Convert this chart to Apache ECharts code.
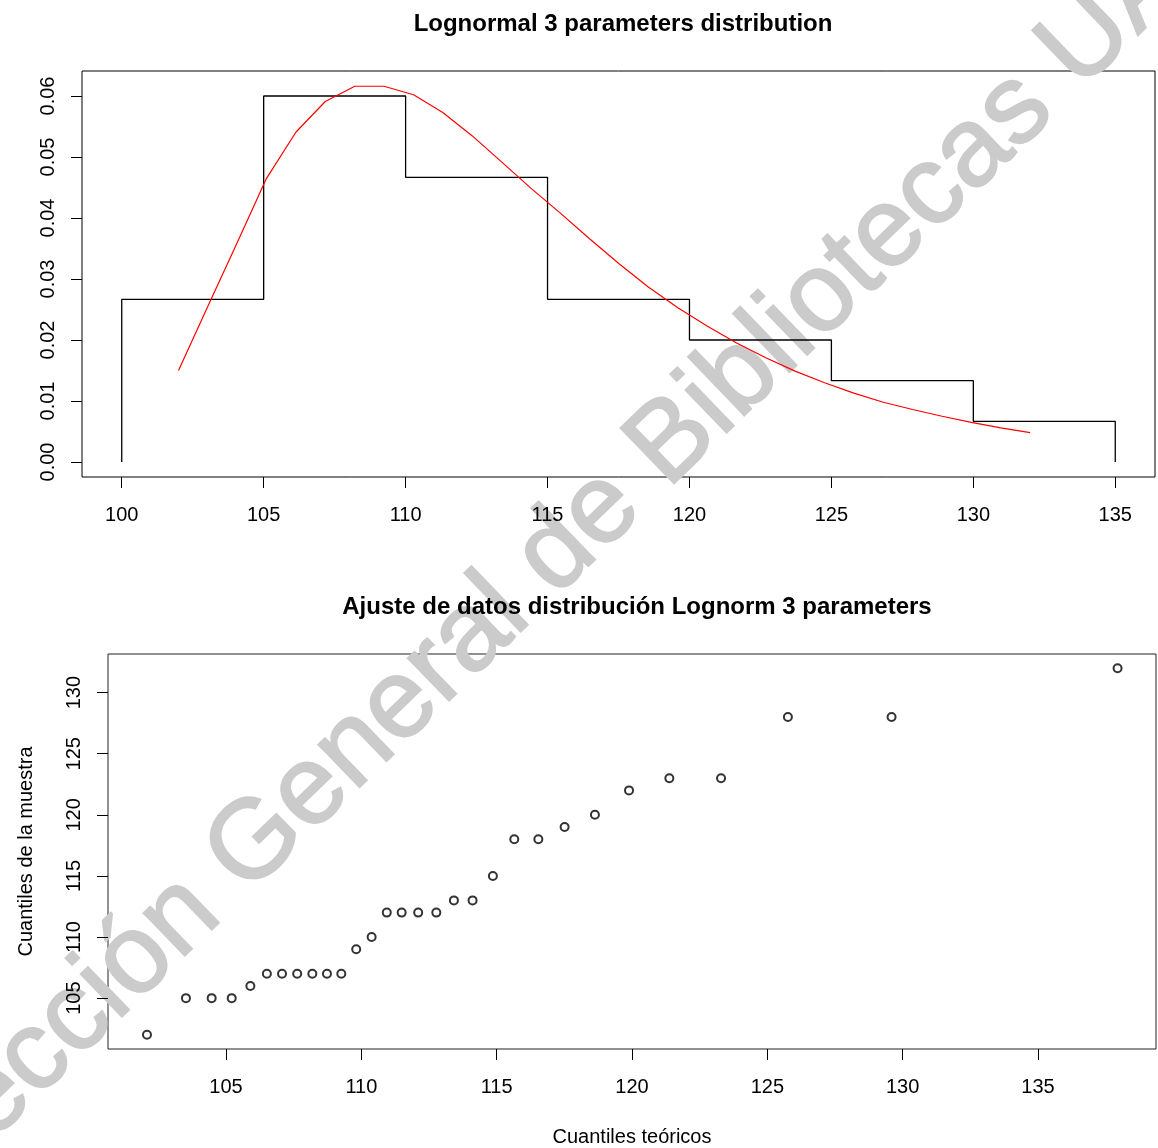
<!DOCTYPE html>
<html>
<head>
<meta charset="utf-8">
<script src="https://cdn.jsdelivr.net/npm/echarts@6/dist/echarts.min.js"></script>
<style>
html,body{margin:0;padding:0;background:#fff;}
#chart{width:1158px;height:1148px;}
</style>
</head>
<body>
<div id="chart"></div>
<script>
// ---- Data ----
const histBreaks = [100, 105, 110, 115, 120, 125, 130, 135];
const histDensity = [0.02667, 0.06, 0.04667, 0.02667, 0.02, 0.01333, 0.00667];

const curveX = [102.00, 103.03, 104.07, 105.10, 106.14, 107.17, 108.21, 109.24, 110.28, 111.31,
                112.34, 113.38, 114.41, 115.45, 116.48, 117.52, 118.55, 119.59, 120.62, 121.66,
                122.69, 123.72, 124.76, 125.79, 126.83, 127.86, 128.90, 129.93, 130.97, 132.00];
const curveY = [0.0150, 0.0255, 0.0360, 0.0465, 0.0541, 0.0591, 0.0616, 0.0616, 0.0602, 0.0573,
                0.0535, 0.0492, 0.0449, 0.0408, 0.0366, 0.0325, 0.0287, 0.0253, 0.0223, 0.0195,
                0.0171, 0.0149, 0.0130, 0.0113, 0.0098, 0.0086, 0.0075, 0.0065, 0.0056, 0.0048];

const theoQuantiles = [102.08, 103.52, 104.47, 105.21, 105.90, 106.51, 107.07, 107.63, 108.19, 108.73,
                       109.26, 109.81, 110.38, 110.94, 111.49, 112.10, 112.77, 113.42, 114.11, 114.86,
                       115.65, 116.54, 117.51, 118.63, 119.89, 121.38, 123.29, 125.76, 129.59, 137.94];
const sampleQuantiles = [102, 105, 105, 105, 106, 107, 107, 107, 107, 107,
                         107, 109, 110, 112, 112, 112, 112, 113, 113, 115,
                         118, 118, 119, 120, 122, 123, 123, 128, 128, 132];

const topXTicks = [100, 105, 110, 115, 120, 125, 130, 135];
const topYTicks = [0, 0.01, 0.02, 0.03, 0.04, 0.05, 0.06];
const botXTicks = [105, 110, 115, 120, 125, 130, 135];
const botYTicks = [105, 110, 115, 120, 125, 130];

const title1 = 'Lognormal 3 parameters distribution';
const title2 = 'Ajuste de datos distribución Lognorm 3 parameters';
const xName2 = 'Cuantiles teóricos';
const yName2 = 'Cuantiles de la muestra';
const wmLeft = 'Dirección ';
const wmRight = 'General de Bibliotecas UAQ';

// ---- Build step outline of histogram ----
const histOutline = [[histBreaks[0], 0]];
histDensity.forEach((d, i) => {
  histOutline.push([histBreaks[i], d]);
  histOutline.push([histBreaks[i + 1], d]);
});
histOutline.push([histBreaks[histBreaks.length - 1], 0]);

const curveData = curveX.map((x, i) => [x, curveY[i]]);
const qqData = theoQuantiles.map((x, i) => [x, sampleQuantiles[i]]);

const FONT = '"Liberation Sans", Arial, sans-serif';
const labelStyle = { color: '#000', fontSize: 20, fontFamily: FONT };

function xAxisCfg(idx, min, max, ticks, extra) {
  return Object.assign({
    type: 'value', gridIndex: idx, min: min, max: max, position: 'bottom',
    axisLine: { show: false, onZero: false },
    splitLine: { show: false },
    axisTick: { show: true, inside: false, length: 11, customValues: ticks, lineStyle: { color: '#000', width: 1 } },
    axisLabel: Object.assign({ customValues: ticks, margin: 28 }, labelStyle)
  }, extra || {});
}
function yAxisCfg(idx, min, max, ticks, fmt, extra) {
  return Object.assign({
    type: 'value', gridIndex: idx, min: min, max: max, position: 'left',
    axisLine: { show: false, onZero: false },
    splitLine: { show: false },
    axisTick: { show: true, inside: false, length: 11, customValues: ticks, lineStyle: { color: '#000', width: 1 } },
    axisLabel: Object.assign({ customValues: ticks, margin: 24, rotate: 90, formatter: fmt }, labelStyle)
  }, extra || {});
}

const chart = echarts.init(document.getElementById('chart'), null, { renderer: 'canvas' });
const ang = 44 * Math.PI / 180;
const wmX = 225, wmY = 874;
const wmStyle = { fontSize: 112, fontFamily: FONT, fill: '#cbcbcb', stroke: '#cbcbcb', lineWidth: 2, verticalAlign: 'middle' };

chart.setOption({
  backgroundColor: '#fff',
  animation: false,
  title: [
    { text: title1, left: 618, top: 7, textAlign: 'center',
      textStyle: { fontSize: 24, fontWeight: 'bold', color: '#000', fontFamily: FONT } },
    { text: title2, left: 632, top: 590, textAlign: 'center',
      textStyle: { fontSize: 24, fontWeight: 'bold', color: '#000', fontFamily: FONT } }
  ],
  graphic: [
    { type: 'text', x: wmX, y: wmY, rotation: ang, z: 0, silent: true,
      style: Object.assign({ text: wmRight, align: 'left' }, wmStyle) },
    { type: 'text', x: wmX, y: wmY, rotation: ang, z: 0, silent: true,
      style: Object.assign({ text: wmLeft, align: 'right' }, wmStyle) }
  ],
  grid: [
    { left: 82, top: 71, width: 1073, height: 406, show: true, borderColor: '#000', borderWidth: 1, backgroundColor: 'transparent' },
    { left: 108, top: 654, width: 1048, height: 396, show: true, borderColor: '#222', borderWidth: 1, backgroundColor: 'transparent' }
  ],
  xAxis: [
    xAxisCfg(0, 98.6, 136.4, topXTicks),
    xAxisCfg(1, 100.64, 139.36, botXTicks, {
      name: xName2, nameLocation: 'middle', nameGap: 78,
      nameTextStyle: { color: '#000', fontSize: 20, fontFamily: FONT }
    })
  ],
  yAxis: [
    yAxisCfg(0, -0.00246, 0.0641, topYTicks, v => v.toFixed(2)),
    yAxisCfg(1, 100.84, 133.16, botYTicks, v => String(v), {
      name: yName2, nameLocation: 'middle', nameGap: 72, nameRotate: 90,
      nameTextStyle: { color: '#000', fontSize: 20, fontFamily: FONT }
    })
  ],
  series: [
    { type: 'line', xAxisIndex: 0, yAxisIndex: 0, data: histOutline, showSymbol: false, z: 3,
      lineStyle: { color: '#000', width: 1.3 }, silent: true },
    { type: 'line', xAxisIndex: 0, yAxisIndex: 0, data: curveData, showSymbol: false, z: 4,
      lineStyle: { color: '#ff0000', width: 1.2 }, silent: true },
    { type: 'scatter', xAxisIndex: 1, yAxisIndex: 1, data: qqData, symbol: 'emptyCircle', symbolSize: 8, z: 4,
      itemStyle: { color: '#000', borderColor: '#000', borderWidth: 1.2 }, silent: true }
  ]
});
</script>
</body>
</html>
